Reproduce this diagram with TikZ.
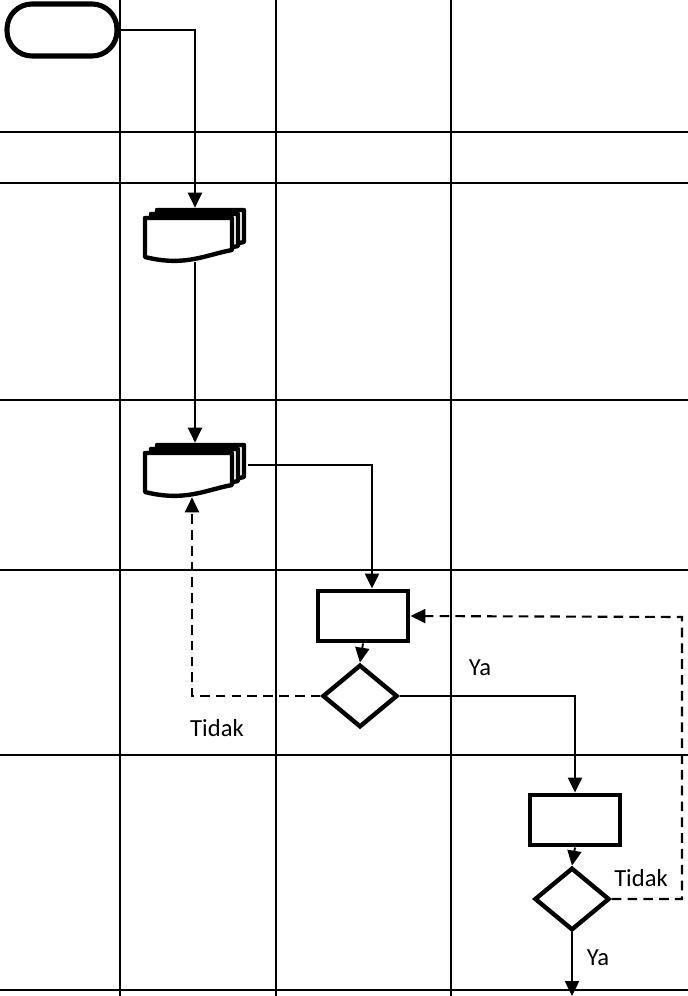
\documentclass[tikz,border=0pt]{standalone}
\usepackage{fontspec}
\setmainfont{Carlito}
\usepackage{tikz}
\usetikzlibrary{arrows.meta, shapes.geometric}

\begin{document}
\begin{tikzpicture}[
    x=0.02cm, y=-0.02cm,
    grid line/.style={black, line width=0.6pt},
    flow/.style={black, line width=1.1pt, -{Triangle[length=8.5pt, width=8pt]}},
    back flow/.style={flow, line width=1.2pt, dash pattern=on 5.5pt off 3.5pt},
    terminal/.style={draw, line width=2.9pt, rounded corners=0.5cm, fill=white,
        minimum width=2.2cm, minimum height=1.04cm, inner sep=0pt},
    procbox/.style={draw, line width=2.8pt, fill=white,
        minimum width=1.8cm, minimum height=1.0cm, inner sep=0pt},
    decision/.style={diamond, draw, line width=2.5pt, fill=white,
        minimum width=1.5cm, minimum height=1.25cm, inner sep=0pt},
    docarea/.style={minimum width=2.1cm, minimum height=1.08cm, inner sep=0pt},
    lbl/.style={font=\fontsize{14}{16}\selectfont},
    pics/docstack/.style={code={
        \foreach \k in {2,1,0} {
            \draw[line width=2.5pt, fill=white, line join=round]
                ({-50+6*\k}, {-17-4*\k}) -- ({37+6*\k}, {-17-4*\k})
                -- ({37+6*\k}, {15-4*\k})
                .. controls ({10+6*\k}, {20-4*\k}) and ({-10+6*\k}, {32-4*\k})
                .. ({-50+6*\k}, {22-4*\k}) -- cycle;
        }
    }}
]
\useasboundingbox (0,0) rectangle (688,996);

% -------- Swimlane grid --------------------------------------
\foreach \gx in {120, 276, 451}
    \draw[grid line] (\gx, 0) -- (\gx, 996);
\foreach \gy in {132, 183, 400, 570, 755, 990}
    \draw[grid line] (0, \gy) -- (688, \gy);

% -------- Start -----------------------------------------------
\node[terminal] (start) at (62, 30) {};

% -------- Document stacks -------------------------------------
\pic at (195, 235) {docstack};
\node[docarea] (doc1) at (195, 235) {};
\pic at (195, 470) {docstack};
\node[docarea] (doc2) at (195, 470) {};

% -------- Processes and decisions -----------------------------
\node[procbox] (proc1) at (363, 616) {};
\node[decision] (dec1) at (360, 696) {};
\node[procbox] (proc2) at (575, 820) {};
\node[decision] (dec2) at (572, 899) {};

% -------- Labels ----------------------------------------------
\node[lbl] (tidak1) at (217, 728) {Tidak};
\node[lbl] (ya1) at (480, 668) {Ya};
\node[lbl] (tidak2) at (641, 878) {Tidak};
\node[lbl] (ya2) at (598, 958) {Ya};

\coordinate (loopcorner) at (682, 617);
\coordinate (endpoint) at (572, 996);

% -------- Main flow -------------------------------------------
\draw[flow] (start.east) -| (doc1.north);
\draw[flow] (doc1.south) -- (doc2.north);
\draw[flow] ([yshift=0.1cm]doc2.east) -| ([xshift=0.18cm]proc1.north);
\draw[flow] (proc1.south) -- (dec1.north);
\draw[flow] (dec1.east) -| (proc2.north);
\draw[flow] (proc2.south) -- (dec2.north);
\draw[flow] (dec2.south) -- (endpoint);

% -------- Return paths ("Tidak") ------------------------------
\draw[back flow] (dec1.west) -| ([xshift=-0.06cm]doc2.south);
\draw[back flow] (dec2.east) -| (loopcorner) -- (proc1.east);

\end{tikzpicture}
\end{document}
